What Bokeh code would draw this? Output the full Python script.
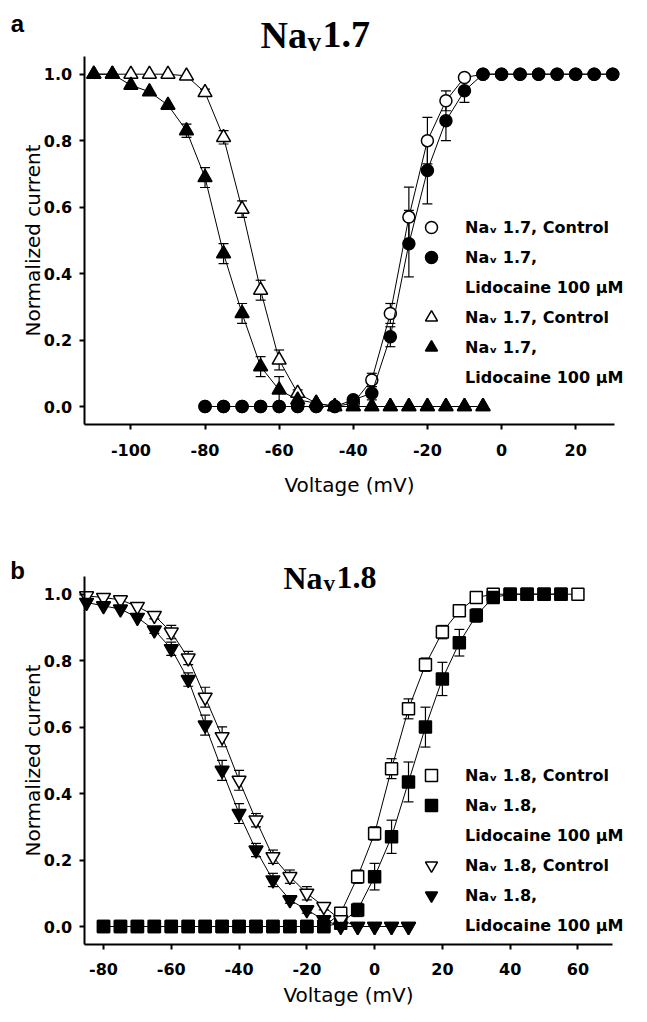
from bokeh.plotting import figure
from bokeh.models import (ColumnDataSource, Whisker, TeeHead, Label, Legend, LegendItem,
                          FixedTicker, PrintfTickFormatter, Range1d)
from bokeh.layouts import column
from bokeh.embed import file_html
from bokeh.resources import INLINE

# ---------------- Panel a : Nav1.7 ----------------
a_act_v = [-80, -75, -70, -65, -60, -55, -50, -45, -40, -35, -30, -25, -20, -15, -10, -5,
           0, 5, 10, 15, 20, 25, 30]
a_act_ctrl = [0, 0, 0, 0, 0, 0, 0, 0, 0.01, 0.08, 0.28, 0.57, 0.80, 0.92, 0.99, 1.0,
              1.0, 1.0, 1.0, 1.0, 1.0, 1.0, 1.0]
a_act_ctrl_err = [0, 0, 0, 0, 0, 0, 0, 0, 0.01, 0.02, 0.03, 0.09, 0.07, 0.03, 0.01, 0,
                  0, 0, 0, 0, 0, 0, 0]
a_act_lido = [0, 0, 0, 0, 0, 0, 0, 0, 0.02, 0.04, 0.21, 0.49, 0.71, 0.86, 0.95, 1.0,
              1.0, 1.0, 1.0, 1.0, 1.0, 1.0, 1.0]
a_act_lido_err = [0, 0, 0, 0, 0, 0, 0, 0, 0.01, 0.02, 0.03, 0.10, 0.10, 0.06, 0.035, 0,
                  0, 0, 0, 0, 0, 0, 0]

a_inact_v = [-110, -105, -100, -95, -90, -85, -80, -75, -70, -65, -60, -55, -50, -45,
             -40, -35, -30, -25, -20, -15, -10, -5]
a_inact_ctrl = [1.0, 1.0, 1.0, 1.0, 1.0, 0.995, 0.945, 0.81, 0.594, 0.35, 0.14, 0.04, 0.01, 0,
                0, 0, 0, 0, 0, 0, 0, 0]
a_inact_ctrl_err = [0, 0, 0, 0, 0, 0, 0.01, 0.02, 0.025, 0.03, 0.03, 0.01, 0, 0,
                    0, 0, 0, 0, 0, 0, 0, 0]
a_inact_lido = [1.0, 1.0, 0.967, 0.947, 0.907, 0.83, 0.689, 0.46, 0.28, 0.12, 0.05, 0.02, 0.01, 0,
                0, 0, 0, 0, 0, 0, 0, 0]
a_inact_lido_err = [0, 0, 0, 0, 0, 0.02, 0.03, 0.03, 0.03, 0.03, 0.04, 0.01, 0, 0,
                    0, 0, 0, 0, 0, 0, 0, 0]

# ---------------- Panel b : Nav1.8 ----------------
b_act_v = [-80, -75, -70, -65, -60, -55, -50, -45, -40, -35, -30, -25, -20, -15, -10, -5,
           0, 5, 10, 15, 20, 25, 30, 35, 40, 45, 50, 55, 60]
b_act_ctrl = [0, 0, 0, 0, 0, 0, 0, 0, 0, 0, 0, 0, 0, 0, 0.04, 0.15,
              0.28, 0.475, 0.655, 0.788, 0.886, 0.95, 0.99, 1.0, 1.0, 1.0, 1.0, 1.0, 1.0]
b_act_ctrl_err = [0, 0, 0, 0, 0, 0, 0, 0, 0, 0, 0, 0, 0, 0, 0.01, 0.02,
                  0.02, 0.03, 0.03, 0.02, 0.02, 0.01, 0.01, 0, 0, 0, 0, 0, 0]
b_act_lido_v = [-80, -75, -70, -65, -60, -55, -50, -45, -40, -35, -30, -25, -20, -15, -10, -5,
                0, 5, 10, 15, 20, 25, 30, 35, 40, 45, 50, 55]
b_act_lido = [0, 0, 0, 0, 0, 0, 0, 0, 0, 0, 0, 0, 0, 0, 0.01, 0.05,
              0.15, 0.27, 0.435, 0.60, 0.745, 0.854, 0.936, 0.99, 1.0, 1.0, 1.0, 1.0]
b_act_lido_err = [0, 0, 0, 0, 0, 0, 0, 0, 0, 0, 0, 0, 0, 0, 0.01, 0.02,
                  0.04, 0.05, 0.06, 0.06, 0.05, 0.04, 0.02, 0.01, 0, 0, 0, 0]

b_inact_v = [-85, -80, -75, -70, -65, -60, -55, -50, -45, -40, -35, -30, -25, -20, -15, -10,
             -5, 0, 5, 10]
b_inact_ctrl = [0.995, 0.99, 0.983, 0.963, 0.936, 0.886, 0.808, 0.69, 0.571, 0.44, 0.32, 0.21,
                0.15, 0.10, 0.06, 0.02, 0, 0, 0, 0]
b_inact_ctrl_err = [0, 0, 0, 0, 0.01, 0.02, 0.02, 0.03, 0.03, 0.03, 0.02, 0.02,
                    0.02, 0.02, 0.01, 0, 0, 0, 0, 0]
b_inact_lido = [0.975, 0.965, 0.955, 0.93, 0.892, 0.836, 0.743, 0.606, 0.47, 0.34, 0.23, 0.14,
                0.08, 0.05, 0.02, 0.0, 0, 0, 0, 0]
b_inact_lido_err = [0, 0, 0, 0, 0.01, 0.02, 0.02, 0.03, 0.03, 0.03, 0.02, 0.02,
                    0.01, 0.01, 0, 0, 0, 0, 0, 0]

a_xticks = [-100, -80, -60, -40, -20, 0, 20]
b_xticks = [-80, -60, -40, -20, 0, 20, 40, 60]
yticks = [0.0, 0.2, 0.4, 0.6, 0.8, 1.0]

x_label = "Voltage (mV)"
y_label = "Normalized current"

FIG_W = 631


def span(v0, p0, v1, p1, total):
    """data range covering pixels 0..total given two (value, pixel) anchors"""
    k = (v1 - v0) / (p1 - p0)
    return v0 - p0 * k, v0 + (total - p0) * k


def make_fig(height, xb, xpx, ypx, xticks, x_std, x_lab_std):
    x0, x1 = span(xb[0], xpx[0], xb[1], xpx[1], FIG_W)
    y0, y1 = span(0.0, ypx[0], 1.0, ypx[1], height)
    yb = (-0.053, 1.053)
    p = figure(width=FIG_W, height=height,
               x_range=Range1d(x0, x1), y_range=Range1d(y0, y1),
               output_backend="svg", toolbar_location=None,
               min_border_left=0, min_border_right=0,
               min_border_top=0, min_border_bottom=0,
               background_fill_color="white", border_fill_color="white",
               outline_line_color=None)
    p.grid.visible = False
    for ax in p.axis:
        ax.axis_line_width = 2
        ax.axis_line_color = "black"
        ax.major_tick_line_width = 2
        ax.major_tick_line_color = "black"
        ax.major_tick_in = 0
        ax.major_tick_out = 5
        ax.minor_tick_line_color = None
        ax.major_label_text_font = "DejaVu Sans"
        ax.major_label_text_font_style = "bold"
        ax.major_label_text_font_size = "16px"
        ax.major_label_text_color = "black"
        ax.axis_label_text_font = "DejaVu Sans"
        ax.axis_label_text_font_style = "normal"
        ax.axis_label_text_font_size = "20px"
        ax.axis_label_text_color = "black"
    p.xaxis.ticker = FixedTicker(ticks=xticks)
    p.yaxis.ticker = FixedTicker(ticks=yticks)
    p.yaxis.formatter = PrintfTickFormatter(format="%.1f")
    p.xaxis.formatter = PrintfTickFormatter(format="%d")
    p.xaxis.axis_label = x_label
    p.yaxis.axis_label = y_label
    p.xaxis.major_label_standoff = x_std
    p.xaxis.axis_label_standoff = x_lab_std
    p.yaxis.major_label_standoff = 7
    p.yaxis.axis_label_standoff = -4
    p.yaxis.fixed_location = xb[0]
    p.yaxis.bounds = yb
    p.xaxis.fixed_location = yb[0]
    p.xaxis.bounds = xb
    return p


def add_series(p, xs, ys, errs, marker, fill, size):
    p.line(xs, ys, line_color="black", line_width=1)
    bx = [x for x, e in zip(xs, errs) if e > 0]
    up = [y + e for y, e in zip(ys, errs) if e > 0]
    lo = [y - e for y, e in zip(ys, errs) if e > 0]
    if bx:
        src = ColumnDataSource(dict(x=bx, upper=up, lower=lo))
        w = Whisker(source=src, base="x", upper="upper", lower="lower",
                    line_color="black", line_width=1.2, level="underlay",
                    upper_head=TeeHead(size=10, line_width=1.2, line_color="black"),
                    lower_head=TeeHead(size=10, line_width=1.2, line_color="black"))
        p.add_layout(w)
    r = p.scatter(xs, ys, marker=marker, size=size, fill_color=fill,
                  line_color="black", line_width=1.5)
    return r


def add_title(p, letter, lx, ly, name, sub, num, tx, ty, fs, sub_fs, sub_dy, w_na, w_sub):
    p.add_layout(Label(x=lx, y=ly, x_units="screen", y_units="screen", text=letter,
                       text_font="Liberation Sans", text_font_style="bold",
                       text_font_size="24px", text_align="center",
                       text_baseline="alphabetic", text_color="black"))
    p.add_layout(Label(x=tx, y=ty, x_units="screen", y_units="screen", text=name,
                       text_font="Liberation Serif", text_font_style="bold",
                       text_font_size=f"{fs}px", text_align="left",
                       text_baseline="alphabetic", text_color="black"))
    p.add_layout(Label(x=tx + w_na, y=ty - sub_dy, x_units="screen", y_units="screen",
                       text=sub, text_font="Liberation Serif", text_font_style="bold",
                       text_font_size=f"{sub_fs}px", text_align="left",
                       text_baseline="alphabetic", text_color="black"))
    p.add_layout(Label(x=tx + w_na + w_sub, y=ty, x_units="screen", y_units="screen",
                       text=num, text_font="Liberation Serif", text_font_style="bold",
                       text_font_size=f"{fs}px", text_align="left",
                       text_baseline="alphabetic", text_color="black"))


def add_legend(p, entries, vy):
    items = [LegendItem(label=lab, renderers=rs) for lab, rs in entries]
    leg = Legend(items=items, location=(416, vy), orientation="vertical",
                 glyph_width=30, glyph_height=30, label_height=30, label_width=10,
                 label_standoff=19, spacing=0, padding=0, margin=0,
                 border_line_color=None, background_fill_alpha=0,
                 label_text_font="DejaVu Sans", label_text_font_style="bold",
                 label_text_font_size="16px", label_text_color="black")
    p.add_layout(leg)


# ---- figure a (page y 8..515) ----
A_H = 507
A_TOP = 8
pa = make_fig(A_H, (-112.6, 30.4), (83.7, 613.7), (A_H - 406.0, A_H - 73.7), a_xticks, 15, 13)
r1 = add_series(pa, a_act_v, a_act_ctrl, a_act_ctrl_err, "circle", "white", 12)
r2 = add_series(pa, a_act_v, a_act_lido, a_act_lido_err, "circle", "black", 12)
r3 = add_series(pa, a_inact_v, a_inact_ctrl, a_inact_ctrl_err, "triangle", "white", 14)
r4 = add_series(pa, a_inact_v, a_inact_lido, a_inact_lido_err, "triangle", "black", 14)
add_legend(pa, [("Na\u1d65 1.7, Control", [r1]), ("Na\u1d65 1.7,", [r2]),
                ("Lidocaine 100 \u03bcM", []), ("Na\u1d65 1.7, Control", [r3]),
                ("Na\u1d65 1.7,", [r4]), ("Lidocaine 100 \u03bcM", [])], 115)
# page baselines: letter 31, title 42
add_title(pa, "a", 17, A_TOP + A_H - 31, "Na", "v", "1.7", 260, A_TOP + A_H - 42,
          38, 27, 7, 47, 15)

# ---- figure b (page y 515..1014) ----
B_H = 499
B_TOP = A_TOP + A_H
pb = make_fig(B_H, (-85.7, 70.2), (83.7, 612.0), (B_H - 419.0, B_H - 86.7), b_xticks, 14, 4)
s1 = add_series(pb, b_act_v, b_act_ctrl, b_act_ctrl_err, "square", "white", 12)
s2 = add_series(pb, b_act_lido_v, b_act_lido, b_act_lido_err, "square", "black", 12)
s3 = add_series(pb, b_inact_v, b_inact_ctrl, b_inact_ctrl_err, "inverted_triangle", "white", 14)
s4 = add_series(pb, b_inact_v, b_inact_lido, b_inact_lido_err, "inverted_triangle", "black", 14)
add_legend(pb, [("Na\u1d65 1.8, Control", [s1]), ("Na\u1d65 1.8,", [s2]),
                ("Lidocaine 100 \u03bcM", []), ("Na\u1d65 1.8, Control", [s3]),
                ("Na\u1d65 1.8,", [s4]), ("Lidocaine 100 \u03bcM", [])], 66)
# page baselines: letter 578, title 585
add_title(pb, "b", 17, B_TOP + B_H - 578, "Na", "v", "1.8", 283, B_TOP + B_H - 585,
          32, 23, 6, 40, 13)

layout = column(pa, pb)
open("out.html", "w").write(file_html(layout, INLINE))
